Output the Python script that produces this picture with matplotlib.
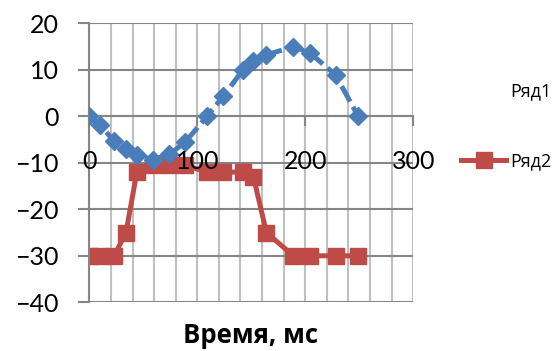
import matplotlib.pyplot as plt
from matplotlib.ticker import MultipleLocator

# время отсчётов, мс
t = [0, 10, 23, 34, 44, 59, 74, 89, 109, 124, 142, 152, 164, 189, 204, 228, 249]
ryad1 = [0, -1.8, -5.4, -7, -8.3, -9.3, -8.2, -5.5, 0, 4.3, 9.9, 11.8, 13.2, 15, 13.7, 8.9, 0]
ryad2 = [-30, -30, -30, -25, -12, -10.5, -10.5, -10.5, -12, -12, -12, -13, -25, -30, -30, -30, -30]
names = ['Ряд1', 'Ряд2']
xticks = [0, 100, 200, 300]

fig = plt.figure(figsize=(5.54, 3.51), dpi=100)
ax = fig.add_axes([0.1612, 0.1387, 0.5848, 0.7949])

dark = '#868686'
light = '#c0c0c0'

ax.plot(t, ryad1, color='#4a7ebb', lw=3.6, ls=(0, (3.5, 1.2)), marker='D', ms=9.5,
        mec='#4a7ebb', label=names[0], zorder=3)
ax.plot(t, ryad2, color='#be4b48', lw=3.6, marker='s', ms=11.5,
        mec='#be4b48', label=names[1], zorder=2)

ax.set_xlim(0, 300)
ax.set_ylim(-40, 20)
ax.set_xticks(xticks)
ax.xaxis.set_minor_locator(MultipleLocator(20))
ax.yaxis.set_major_locator(MultipleLocator(10))

ax.grid(axis='x', which='both', color=light, lw=1.5, zorder=0)
ax.grid(axis='y', which='major', color=dark, lw=1.5, zorder=0)
ax.set_axisbelow(True)

for s in ['top', 'right']:
    ax.spines[s].set_visible(False)
ax.spines['left'].set_color(dark)
ax.spines['left'].set_linewidth(1.5)
ax.spines['bottom'].set_position(('data', 0))
ax.spines['bottom'].set_color(dark)
ax.spines['bottom'].set_linewidth(1.5)

ax.tick_params(axis='y', direction='out', length=8, width=1.5, color=dark, pad=14,
               labelsize=18)
ax.tick_params(axis='x', which='major', direction='out', length=7, width=1.5, color=dark,
               labelbottom=False)
ax.tick_params(axis='x', which='minor', length=0)
for lab in ax.get_yticklabels():
    lab.set_family(['Lato', 'DejaVu Sans'])

# подписи оси X поверх линий
for v in xticks:
    ax.text(v, -11.4, str(v), ha='center', va='baseline', fontsize=18,
            family=['Lato', 'DejaVu Sans'], zorder=5, clip_on=False)

fig.text(0.453, 0.022, 'Время, мс', ha='center', va='baseline', fontsize=18.5,
         fontweight='bold', family=['Open Sans', 'DejaVu Sans'])

leg = fig.legend(loc='upper left', bbox_to_anchor=(452 / 554, 1 - 73 / 351),
                 frameon=False, borderpad=0, handlelength=2.5, handletextpad=0.2,
                 labelspacing=2.9, prop={'family': 'Open Sans', 'size': 13})
leg.legend_handles[0].set_visible(False)

fig.savefig('out.png', dpi=100)
